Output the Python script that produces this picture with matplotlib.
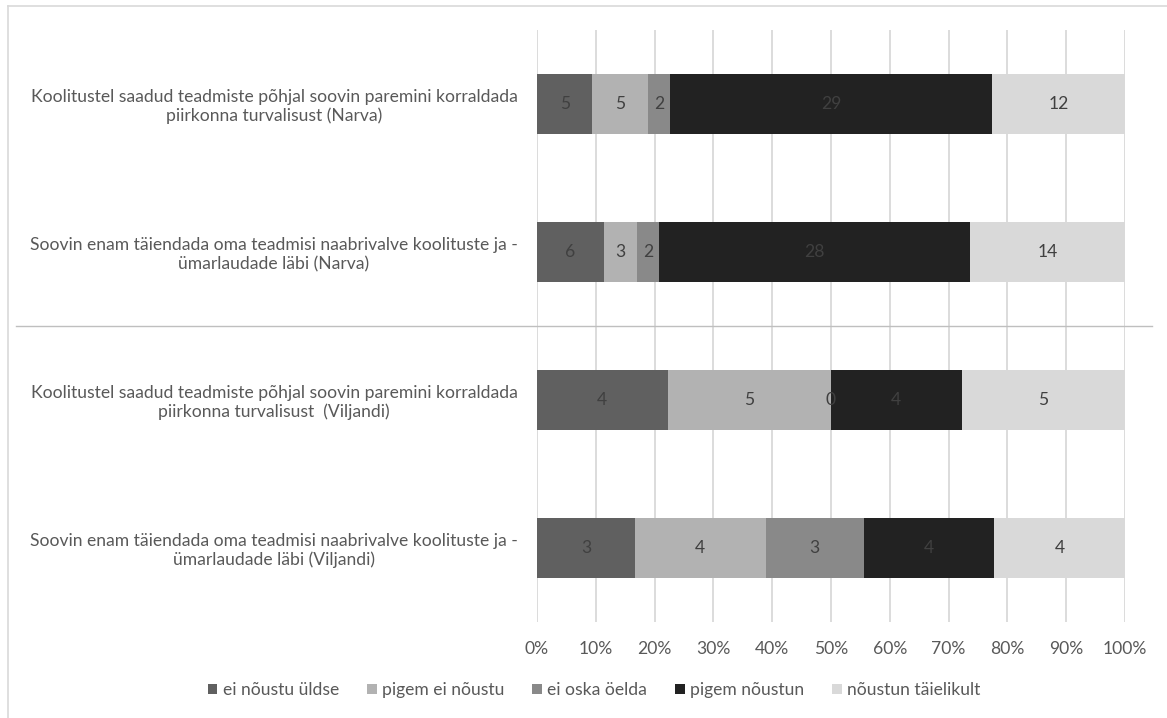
import numpy as np
import matplotlib
matplotlib.use("Agg")
import matplotlib.pyplot as plt
from matplotlib.lines import Line2D
from matplotlib.transforms import blended_transform_factory

plt.rcParams['font.family'] = ['Lato', 'DejaVu Sans']

categories = [
    "Koolitustel saadud teadmiste põhjal soovin paremini korraldada\npiirkonna turvalisust (Narva)",
    "Soovin enam täiendada oma teadmisi naabrivalve koolituste ja -\nümarlaudade läbi (Narva)",
    "Koolitustel saadud teadmiste põhjal soovin paremini korraldada\npiirkonna turvalisust  (Viljandi)",
    "Soovin enam täiendada oma teadmisi naabrivalve koolituste ja -\nümarlaudade läbi (Viljandi)",
]
series = ["ei nõustu üldse", "pigem ei nõustu", "ei oska öelda", "pigem nõustun", "nõustun täielikult"]
ei_noustu_uldse = [5, 6, 4, 3]
pigem_ei_noustu = [5, 3, 5, 4]
ei_oska_oelda = [2, 2, 0, 3]
pigem_noustun = [29, 28, 4, 4]
noustun_taielikult = [12, 14, 5, 4]

colors = ["#606060", "#b2b2b2", "#898989", "#222222", "#d9d9d9"]
text_col = "#595959"
fs = 12.6

counts = np.array([ei_noustu_uldse, pigem_ei_noustu, ei_oska_oelda,
                   pigem_noustun, noustun_taielikult], dtype=float)
totals = counts.sum(axis=0)
shares = counts / totals

fig = plt.figure(figsize=(11.67, 7.18), dpi=100)
ax = fig.add_axes([537/1167, 1-622/718, (1125-537)/1167, (622-30)/718])

y = np.arange(len(categories))
left = np.zeros(len(categories))
for i, name in enumerate(series):
    ax.barh(y, shares[i], left=left, height=0.4, color=colors[i], label=name, zorder=2)
    for j in range(len(categories)):
        ax.text(left[j] + shares[i][j] / 2, y[j], f"{int(counts[i][j])}",
                ha="center", va="center", fontsize=fs, color="#404040", zorder=3)
    left += shares[i]

ax.set_ylim(len(categories) - 0.5, -0.5)
ax.set_xlim(0, 1)
ax.set_xticks(np.arange(0, 1.01, 0.1))
ax.set_xticklabels([f"{int(round(v*100))}%" for v in np.arange(0, 1.01, 0.1)])
ax.set_yticks(y)
ax.set_yticklabels(categories, multialignment="center")
ax.tick_params(axis="both", length=0, colors=text_col, labelsize=fs)
ax.tick_params(axis="y", pad=14)
ax.tick_params(axis="x", pad=14)
ax.grid(axis="x", color="#d9d9d9", linewidth=1.3, zorder=0)
ax.set_axisbelow(True)
for s in ax.spines.values():
    s.set_visible(False)

# separator between Narva and Viljandi groups
tr = blended_transform_factory(fig.transFigure, ax.transData)
fig.add_artist(Line2D([16/1167, 1152/1167], [1.5, 1.5], transform=tr,
                      color="#bfbfbf", linewidth=1.0))

# chart frame (top and left)
fig.add_artist(Line2D([8/1167, 1.0], [1-6/718, 1-6/718], transform=fig.transFigure,
                      color="#d9d9d9", linewidth=1.2))
fig.add_artist(Line2D([8/1167, 8/1167], [0, 1-6/718], transform=fig.transFigure,
                      color="#d9d9d9", linewidth=1.2))

leg = fig.legend(loc="center", bbox_to_anchor=(594/1167, 1-690/718), ncol=5,
                 frameon=False, fontsize=fs, handlelength=0.55, handleheight=0.55,
                 handletextpad=0.3, columnspacing=1.6)
for t in leg.get_texts():
    t.set_color(text_col)

fig.savefig("out.png", dpi=100)
